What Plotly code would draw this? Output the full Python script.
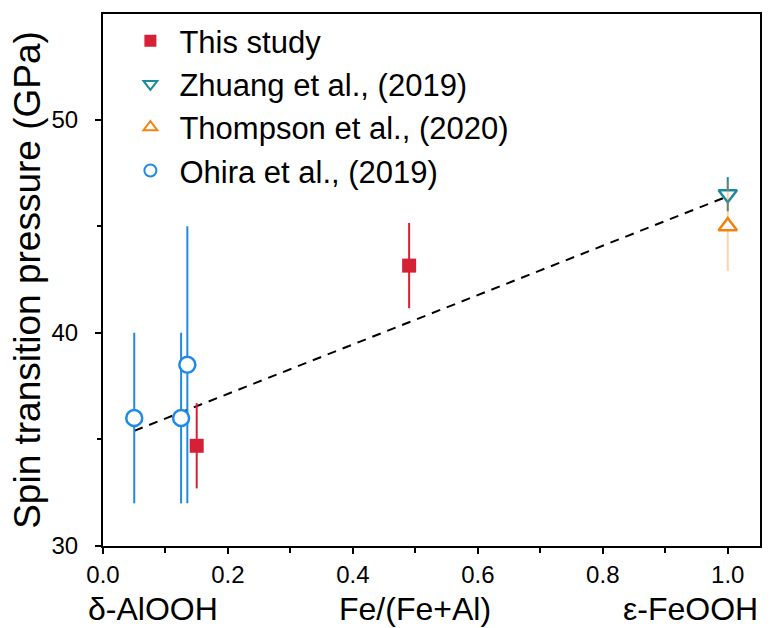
import plotly.graph_objects as go

# ---- data ----
this_x = [0.15, 0.49]
this_y = [34.7, 43.15]
this_err = [2.0, 2.0]

zhuang_x = [1.0]
zhuang_y = [46.5]
zhuang_err = [0.8]

thompson_x = [1.0]
thompson_y = [45.0]
thompson_err = [2.1]

ohira_x = [0.05, 0.125, 0.135]
ohira_y = [36.0, 36.0, 38.5]
ohira_err = [4.0, 4.0, 6.5]

fit_x = [0.05, 1.0]
fit_y = [35.4, 46.4]

x_ticks = [0.0, 0.2, 0.4, 0.6, 0.8, 1.0]
x_ticklabels = ["0.0", "0.2", "0.4", "0.6", "0.8", "1.0"]
y_ticks = [30, 40, 50]

end_labels = ["δ-AlOOH", "Fe/(Fe+Al)", "ε-FeOOH"]
end_label_x = [0.08, 0.50, 0.94]

RED = "#d62035"
TEAL = "#1a8a9c"
ORANGE = "#f5820f"
BLUE = "#1e8ae8"
FONT = "Liberation Sans, Arial, sans-serif"

fig = go.Figure()

fig.add_trace(go.Scatter(
    x=fit_x, y=fit_y, mode="lines", showlegend=False,
    line=dict(color="black", width=2, dash="9px,7px"), hoverinfo="skip"))

fig.add_trace(go.Scatter(
    x=this_x, y=this_y, mode="markers", name="This study",
    marker=dict(symbol="square", size=14, color=RED, line=dict(width=0)),
    error_y=dict(type="data", array=this_err, color=RED, thickness=2, width=0)))

fig.add_trace(go.Scatter(
    x=zhuang_x, y=zhuang_y, mode="markers", name="Zhuang et al., (2019)",
    marker=dict(symbol="triangle-down", size=16, color="white",
                line=dict(width=2.5, color=TEAL)),
    error_y=dict(type="data", array=zhuang_err, color=TEAL, thickness=2, width=0)))

fig.add_trace(go.Scatter(
    x=thompson_x, y=thompson_y, mode="markers", name="Thompson et al., (2020)",
    marker=dict(symbol="triangle-up", size=16, color="white",
                line=dict(width=2.5, color=ORANGE)),
    error_y=dict(type="data", array=thompson_err, color="rgba(245,130,15,0.35)",
                 thickness=2, width=0)))

fig.add_trace(go.Scatter(
    x=ohira_x, y=ohira_y, mode="markers", name="Ohira et al., (2019)",
    marker=dict(symbol="circle", size=16, color="white",
                line=dict(width=2.5, color=BLUE)),
    error_y=dict(type="data", array=ohira_err, color=BLUE, thickness=2, width=0)))

for txt, xv in zip(end_labels, end_label_x):
    fig.add_annotation(x=xv, xref="x", y=0, yref="paper", yshift=-63,
                       text=txt, showarrow=False, yanchor="middle",
                       font=dict(size=32, color="black", family=FONT))

fig.update_layout(
    width=773, height=628,
    margin=dict(l=103, r=11, t=14, b=82),
    paper_bgcolor="white", plot_bgcolor="white",
    font=dict(family=FONT, color="black"),
    showlegend=True,
    legend=dict(x=0.028, y=1.0, xanchor="left", yanchor="top",
                bgcolor="rgba(0,0,0,0)", font=dict(size=31, family=FONT),
                tracegroupgap=0, itemsizing="constant", itemwidth=48),
)

fig.update_xaxes(
    range=[0, 1.0516], tickvals=x_ticks, ticktext=x_ticklabels,
    ticks="outside", ticklen=6, tickwidth=1.5, tickcolor="black",
    tickfont=dict(size=24, family=FONT),
    showline=True, linecolor="black", linewidth=2, mirror=True,
    showgrid=False, zeroline=False,
    minor=dict(dtick=0.1, ticks="outside", ticklen=5, tickwidth=1.5, tickcolor="black"))

fig.update_yaxes(
    range=[30, 54.95], tickvals=y_ticks,
    ticks="outside", ticklen=6, tickwidth=1.5, tickcolor="black",
    tickfont=dict(size=24, family=FONT), ticklabelstandoff=12,
    title=dict(text="Spin transition pressure (GPa)", font=dict(size=37, family=FONT),
               standoff=0),
    showline=True, linecolor="black", linewidth=2, mirror=True,
    showgrid=False, zeroline=False,
    minor=dict(dtick=5, ticks="outside", ticklen=4, tickwidth=1.5, tickcolor="black"))

fig.write_html("out.html")
